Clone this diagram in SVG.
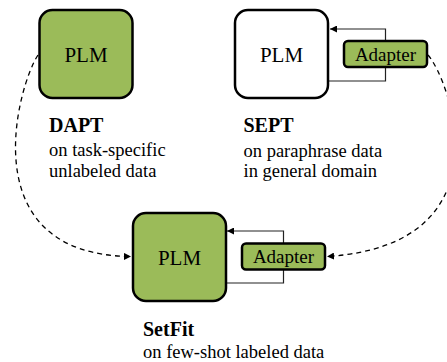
<svg xmlns="http://www.w3.org/2000/svg" width="447" height="362" viewBox="0 0 447 362">
<style>
.plm{stroke:#000;stroke-width:2.5}
.green{fill:#9BBB59}
.white{fill:#fff}
.ad{fill:#9BBB59;stroke:#000;stroke-width:2.5}
.big{font-size:21px}
.adt{font-size:19px}
.title{font-size:20px;font-weight:bold}
.desc{font-size:18.5px}
.res{fill:none;stroke:#222;stroke-width:1.2}
.dash{fill:none;stroke:#000;stroke-width:1.3;stroke-dasharray:5 4}
</style>
<defs>
<marker id="ah" viewBox="0 0 10 10" refX="10" refY="5" markerWidth="7" markerHeight="7" markerUnits="userSpaceOnUse" orient="auto">
<path d="M0,0 L10,5 L0,10 z" fill="#000"/>
</marker>
</defs>
<rect width="447" height="362" fill="#fff"/>
<g id="connectors">
<path class="res" d="M385.5,41 V29 H330" marker-end="url(#ah)"/>
<path class="res" d="M385.5,67 V81 H329"/>
<path class="res" d="M283.5,243.5 V231 H227" marker-end="url(#ah)"/>
<path class="res" d="M283.5,269.5 V283 H226"/>
<path class="dash" d="M38,55 C18,85 -30,255 131,256.5" marker-end="url(#ah)"/>
<path class="dash" d="M428,55 C450,80 510,245 327,256.5" marker-end="url(#ah)"/>
</g>
<g id="dapt" font-family="'Liberation Serif', serif" fill="#000">
<rect class="plm green" x="39.5" y="10" width="93" height="88" rx="13"/>
<text class="big" x="86" y="62" text-anchor="middle">PLM</text>
<text class="title" x="49" y="131.5">DAPT</text>
<text class="desc" x="49" y="156">on task-specific</text>
<text class="desc" x="49" y="177">unlabeled data</text>
</g>
<g id="sept" font-family="'Liberation Serif', serif" fill="#000">
<rect class="plm white" x="235" y="10" width="93" height="88" rx="13"/>
<text class="big" x="281.5" y="62" text-anchor="middle">PLM</text>
<text class="title" x="243.5" y="132">SEPT</text>
<text class="desc" x="243.5" y="156.5">on paraphrase data</text>
<text class="desc" x="243.5" y="177">in general domain</text>
</g>
<g id="sept-adapter" font-family="'Liberation Serif', serif" fill="#000">
<rect class="ad" x="344" y="41" width="83" height="26" rx="4"/>
<text class="adt" x="385.5" y="60.5" text-anchor="middle">Adapter</text>
</g>
<g id="setfit" font-family="'Liberation Serif', serif" fill="#000">
<rect class="plm green" x="133" y="213" width="93" height="88" rx="13"/>
<text class="big" x="179.5" y="265" text-anchor="middle">PLM</text>
<text class="title" x="143" y="336">SetFit</text>
<text class="desc" x="143" y="357.5">on few-shot labeled data</text>
</g>
<g id="setfit-adapter" font-family="'Liberation Serif', serif" fill="#000">
<rect class="ad" x="242" y="243.5" width="83" height="26" rx="4"/>
<text class="adt" x="283.5" y="263" text-anchor="middle">Adapter</text>
</g>
</svg>
